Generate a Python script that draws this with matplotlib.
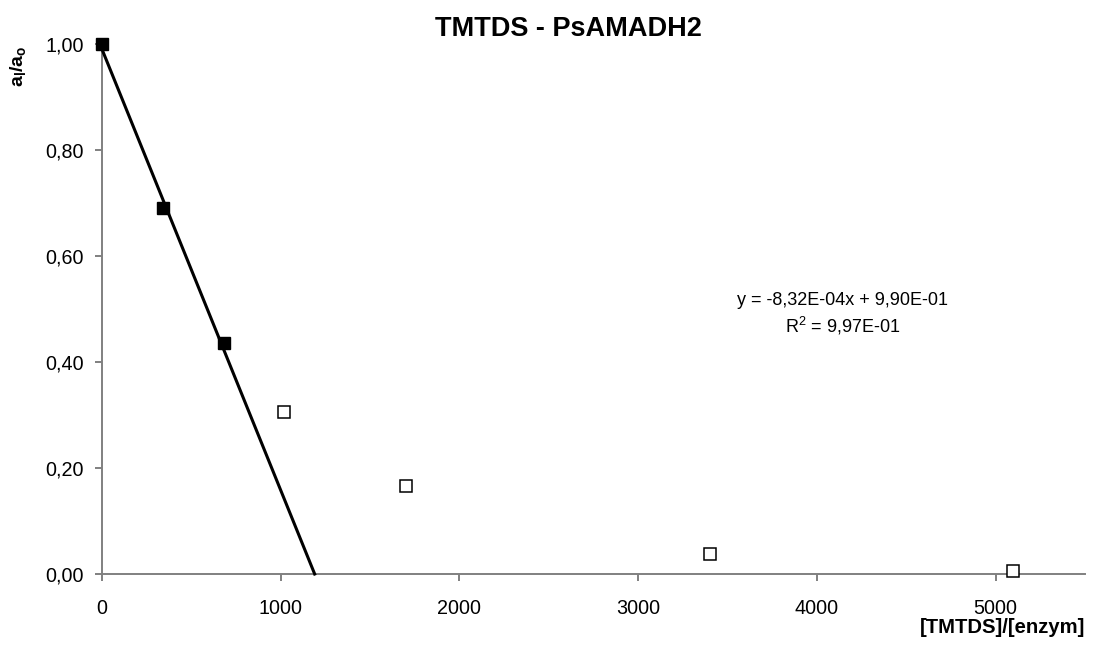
import matplotlib
matplotlib.use("Agg")
import matplotlib.pyplot as plt
from matplotlib.ticker import FuncFormatter
import numpy as np

plt.rcParams['font.family'] = ['Liberation Sans', 'DejaVu Sans']
plt.rcParams['mathtext.fontset'] = 'custom'
plt.rcParams['mathtext.rm'] = 'Liberation Sans'
plt.rcParams['mathtext.it'] = 'Liberation Sans:italic'
plt.rcParams['mathtext.bf'] = 'Liberation Sans:bold'

# Points used for the linear fit (filled) and the remaining points (open)
fit_x = [0, 340, 680]
fit_y = [1.00, 0.69, 0.435]
other_x = [1020, 1700, 3400, 5100]
other_y = [0.306, 0.167, 0.037, 0.005]

# Regression line parameters
slope = -8.32e-4
intercept = 0.990
r_squared = 0.997

x_ticks = [0, 1000, 2000, 3000, 4000, 5000]
y_ticks = [0.0, 0.2, 0.4, 0.6, 0.8, 1.0]

fig = plt.figure(figsize=(10.97, 6.62), dpi=100)
ax = fig.add_axes([0.093, 0.1329, 0.896, 0.8006])

axis_gray = '#808080'

# Regression line from x=0 down to its x-intercept
x_end = -intercept / slope
lx = np.array([0, x_end])
ax.plot(lx, slope * lx + intercept, color='black', lw=2.2, zorder=3, clip_on=False)

ax.plot(fit_x, fit_y, linestyle='none', marker='s', markersize=8.6,
        markerfacecolor='black', markeredgecolor='black', zorder=4, clip_on=False)
ax.plot(other_x, other_y, linestyle='none', marker='s', markersize=8.2,
        markerfacecolor='white', markeredgecolor='black', markeredgewidth=1.1,
        zorder=4, clip_on=False)

ax.set_xlim(0, 5500)
ax.set_ylim(0, 1.0)
ax.set_xticks(x_ticks)
ax.set_yticks(y_ticks)
ax.yaxis.set_major_formatter(FuncFormatter(lambda v, p: f"{v:.2f}".replace('.', ',')))
ax.xaxis.set_major_formatter(FuncFormatter(lambda v, p: f"{v:.0f}"))

for side in ['top', 'right']:
    ax.spines[side].set_visible(False)
for side in ['left', 'bottom']:
    ax.spines[side].set_color(axis_gray)
    ax.spines[side].set_linewidth(1.4)

ax.tick_params(axis='both', direction='out', length=5, width=1.4,
               color=axis_gray, labelsize=14.2, labelcolor='black')
ax.tick_params(axis='x', pad=13)
ax.tick_params(axis='y', pad=8)

fig.text(0.518, 0.956, 'TMTDS - PsAMADH2', ha='center', va='center',
         fontsize=19.5, fontweight='bold')

fig.text(0.016, 0.900, r'$\mathbf{a_l/a_o}$', rotation=90, ha='center',
         va='center', fontsize=14)

fig.text(0.989, 0.052, '[TMTDS]/[enzym]', ha='right', va='center',
         fontsize=14.6, fontweight='bold')

eq_x = 4145
ax.text(eq_x, 0.516, f"y = {slope:.2E}x + {intercept:.2E}".replace('.', ','),
        ha='center', va='center', fontsize=13)
ax.text(eq_x, 0.468, r'R$^2$ = ' + f"{r_squared:.2E}".replace('.', ','),
        ha='center', va='center', fontsize=13)

fig.savefig('out.png', dpi=100, facecolor='white')
